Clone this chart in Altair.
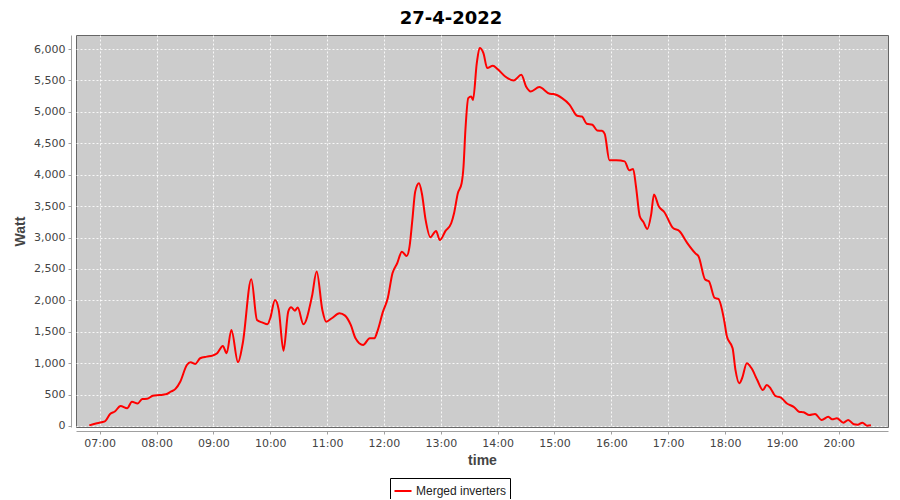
import altair as alt
import pandas as pd

DATE = "2022-04-27"
SERIES = "Merged inverters"

times = ["06:49", "06:56", "07:02", "07:06", "07:11", "07:16", "07:22", "07:29", "07:34", "07:40",
         "07:45", "07:50", "07:56", "08:03", "08:10", "08:15", "08:20", "08:25", "08:32", "08:36",
         "08:41", "08:46", "08:53", "08:59", "09:04", "09:10", "09:14", "09:19", "09:26", "09:31",
         "09:40", "09:46", "09:52", "09:57", "10:00", "10:05", "10:09", "10:14", "10:19", "10:22",
         "10:26", "10:29", "10:35", "10:44", "10:49", "10:55", "10:59", "11:05", "11:13", "11:19",
         "11:25", "11:30", "11:38", "11:45", "11:50", "11:53", "11:59", "12:04", "12:09", "12:14",
         "12:19", "12:24", "12:27", "12:30", "12:33", "12:37", "12:40", "12:44", "12:49", "12:55",
         "12:59", "13:05", "13:11", "13:14", "13:18", "13:22", "13:24", "13:26", "13:29", "13:32",
         "13:34", "13:38", "13:41", "13:45", "13:49", "13:55", "14:00", "14:08", "14:17", "14:25",
         "14:30", "14:35", "14:44", "14:55", "14:59", "15:08", "15:16", "15:24", "15:29", "15:34",
         "15:40", "15:45", "15:50", "15:53", "15:58", "16:05", "16:14", "16:19", "16:23", "16:26",
         "16:30", "16:34", "16:38", "16:42", "16:45", "16:50", "16:56", "17:05", "17:12", "17:20",
         "17:29", "17:32", "17:39", "17:43", "17:49", "17:53", "17:59", "18:02", "18:08", "18:11",
         "18:15", "18:18", "18:23", "18:28", "18:34", "18:40", "18:44", "18:48", "18:53", "18:59",
         "19:05", "19:13", "19:18", "19:23", "19:29", "19:35", "19:42", "19:49", "19:53", "19:58",
         "20:05", "20:10", "20:16", "20:20", "20:25", "20:30", "20:34"]

watts = [10, 40, 60, 80, 190, 230, 318, 282, 385, 358,
         430, 432, 480, 492, 505, 546, 590, 705, 971, 1014,
         987, 1078, 1104, 1120, 1158, 1274, 1158, 1529, 1014, 1317,
         2336, 1688, 1645, 1619, 1715, 2006, 1847, 1199, 1820, 1890,
         1836, 1884, 1619, 2060, 2458, 1847, 1661, 1715, 1794, 1757,
         1608, 1396, 1289, 1396, 1396, 1502, 1820, 2032, 2430, 2590,
         2775, 2706, 2854, 3280, 3730, 3863, 3704, 3280, 3004, 3105,
         2960, 3105, 3227, 3386, 3704, 3863, 4130, 4714, 5218, 5244,
         5190, 5774, 6016, 5935, 5698, 5733, 5680, 5563, 5500, 5590,
         5404, 5325, 5395, 5288, 5283, 5218, 5112, 4937, 4926, 4810,
         4794, 4704, 4698, 4650, 4230, 4228, 4212, 4069, 4092, 3815,
         3338, 3243, 3137, 3365, 3683, 3497, 3402, 3153, 3100, 2915,
         2744, 2702, 2330, 2303, 2038, 2022, 1688, 1423, 1237, 892,
         680, 760, 998, 918, 732, 573, 653, 600, 478, 451,
         362, 298, 228, 218, 175, 191, 96, 148, 106, 122,
         53, 96, 27, 20, 53, 5, 12]

hour_ticks = list(range(7, 21))
y_ticks = list(range(0, 6001, 500))

df = pd.DataFrame({
    "time": [f"{DATE}T{t}:00" for t in times],
    "Watt": watts,
    "series": [SERIES] * len(times),
})

x_domain = [alt.DateTime(year=2022, month=4, date=27, hours=6, minutes=35),
            alt.DateTime(year=2022, month=4, date=27, hours=20, minutes=52)]
x_values = [alt.DateTime(year=2022, month=4, date=27, hours=h, minutes=0) for h in hour_ticks]

TICK_FONT = "DejaVu Sans"
LABEL_FONT = "Liberation Sans"

chart = alt.Chart(df).mark_line(strokeWidth=2, interpolate="monotone").encode(
    x=alt.X("time:T",
            scale=alt.Scale(domain=x_domain, nice=False),
            axis=alt.Axis(title="time", values=x_values, format="%H:%M",
                          grid=True, gridColor="white", gridDash=[2, 2], gridOpacity=0.85,
                          offset=4, tickSize=3, labelPadding=3, titlePadding=5,
                          domainColor="#a0a0a0", tickColor="#a0a0a0",
                          labelColor="#444444", labelFont=TICK_FONT, labelFontSize=11,
                          titleColor="#444444", titleFont=LABEL_FONT, titleFontSize=14,
                          titleFontWeight="bold")),
    y=alt.Y("Watt:Q",
            scale=alt.Scale(domain=[-16, 6223], nice=False, zero=False),
            axis=alt.Axis(title="Watt", values=y_ticks, format=",d",
                          grid=True, gridColor="white", gridDash=[2, 2], gridOpacity=0.85,
                          offset=5, tickSize=3, labelPadding=3, titlePadding=6,
                          domainColor="#a0a0a0", tickColor="#a0a0a0",
                          labelColor="#444444", labelFont=TICK_FONT, labelFontSize=11,
                          titleColor="#444444", titleFont=LABEL_FONT, titleFontSize=14,
                          titleFontWeight="bold")),
    color=alt.Color("series:N",
                    scale=alt.Scale(domain=[SERIES], range=["#ff0000"]),
                    legend=alt.Legend(title=None, orient="none", legendX=314, legendY=443,
                                      strokeColor="black", fillColor="white", padding=3,
                                      symbolType="stroke", symbolSize=290, symbolStrokeWidth=2,
                                      labelFont=LABEL_FONT, labelFontSize=12, labelColor="#222222",
                                      labelOffset=3)),
).properties(
    width=812,
    height=392,
    padding={"left": 68, "top": 27, "right": 4, "bottom": 72},
    autosize=alt.AutoSizeParams(type="none"),
    background="white",
    title=alt.TitleParams("27-4-2022", font="DejaVu Sans", fontSize=18, fontWeight="bold",
                          color="black", anchor="middle", dx=-31, offset=7),
).configure_view(
    fill="#cccccc", stroke="#666666", strokeWidth=1
)

chart.save("out.html", embed_options={"renderer": "svg", "actions": False})
